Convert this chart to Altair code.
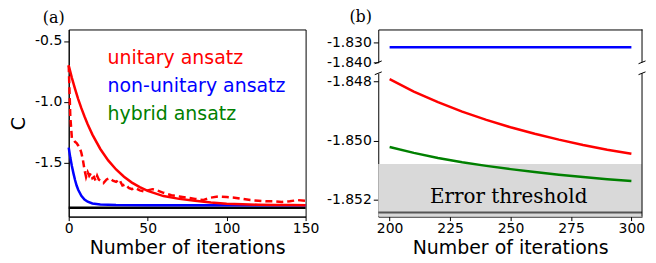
import altair as alt
import pandas as pd

# ---------------- Panel (a) data ----------------
iter_solid = [0, 2, 4, 6, 8, 10, 12, 15, 20, 25, 30, 35, 40, 45, 50, 60, 70, 80, 90, 100, 110, 120, 130, 140, 150]
unitary_solid = [-0.703, -0.803, -0.894, -0.978, -1.053, -1.122, -1.186, -1.271, -1.389, -1.483, -1.558,
                 -1.618, -1.666, -1.703, -1.734, -1.777, -1.800, -1.815, -1.830, -1.840, -1.845, -1.848,
                 -1.850, -1.851, -1.852]

iter_dashed = [0, 1, 2, 3, 4, 5, 6, 7, 8, 9, 10, 11, 12, 13, 14, 15, 16, 17, 18, 19, 20, 22, 24, 26, 28,
               30, 32, 34, 36, 38, 40, 42, 45, 48, 50, 53, 56, 60, 65, 70, 75, 80, 85, 90, 95, 100, 105,
               110, 115, 120, 125, 130, 135, 140, 145, 150]
unitary_dashed = [-0.70, -1.12, -1.30, -1.31, -1.33, -1.34, -1.36, -1.38, -1.42, -1.48, -1.56, -1.62, -1.58,
                  -1.61, -1.59, -1.63, -1.62, -1.65, -1.61, -1.64, -1.65, -1.67, -1.64, -1.63, -1.65,
                  -1.66, -1.64, -1.69, -1.68, -1.71, -1.72, -1.71, -1.73, -1.74, -1.73, -1.72, -1.73,
                  -1.75, -1.77, -1.78, -1.79, -1.80, -1.81, -1.79, -1.78, -1.785, -1.79, -1.80, -1.81,
                  -1.815, -1.82, -1.82, -1.825, -1.82, -1.81, -1.815]

iter_blue = [0, 1, 2, 3, 4, 5, 6, 8, 10, 12, 15, 20, 25, 30, 50, 100, 150]
nonunitary = [-1.378, -1.46, -1.53, -1.59, -1.645, -1.69, -1.725, -1.775, -1.805, -1.823, -1.838, -1.846,
              -1.849, -1.851, -1.852, -1.852, -1.852]

exact_a = [-1.874]

legend_labels = ["unitary ansatz", "non-unitary ansatz", "hybrid ansatz"]
legend_colors = ["#ff0000", "#0000ff", "#008000"]

# ---------------- Panel (b) data ----------------
iter_b = [200, 210, 220, 230, 240, 250, 260, 270, 280, 290, 300]
unitary_b = [-1.84792, -1.84834, -1.84870, -1.84902, -1.84930, -1.84955, -1.84977, -1.84997, -1.85015,
             -1.85031, -1.85045]
hybrid_b = [-1.85022, -1.85042, -1.85059, -1.85074, -1.85086, -1.85097, -1.85107, -1.85116, -1.85124,
            -1.85131, -1.85137]
nonunitary_b = [-1.8324, -1.8324, -1.8324, -1.8324, -1.8324, -1.8324, -1.8324, -1.8324, -1.8324,
                -1.8324, -1.8324]
threshold = [-1.85080]
exact_b = [-1.85244]

# axis ranges
xa_dom = [0, 150]
ya_dom = [-1.946, -0.405]
xb_dom = [195.3, 304.4]
yb_top_dom = [-1.840, -1.8235]
yb_bot_dom = [-1.85258, -1.84772]

FONT = "DejaVu Sans"
SERIF = "DejaVu Serif"
MINUS = "\u2212"

def lab(fmt):
    return f"replace(format(datum.value, '{fmt}'), '{MINUS}', '-')"

# ---------------- Panel (a) ----------------
xa = alt.X("it:Q", scale=alt.Scale(domain=xa_dom, nice=False, zero=False),
           axis=alt.Axis(values=[0, 50, 100, 150], title="Number of iterations", format="d",
                         titlePadding=3, tickSize=4, labelPadding=1))
ya = alt.Y("C:Q", scale=alt.Scale(domain=ya_dom, nice=False, zero=False),
           axis=alt.Axis(values=[-0.5, -1.0, -1.5], title="C", labelExpr=lab(".1f"), titlePadding=6))

df_solid = pd.DataFrame({"it": iter_solid, "C": unitary_solid})
df_dashed = pd.DataFrame({"it": iter_dashed, "C": unitary_dashed})
df_blue = pd.DataFrame({"it": iter_blue, "C": nonunitary})
df_exact_a = pd.DataFrame({"C": exact_a})

a_layers = [
    alt.Chart(df_exact_a).mark_rule(color="black", strokeWidth=2.5).encode(y=ya),
    alt.Chart(df_blue).mark_line(color="#0000ff", strokeWidth=2.5).encode(x=xa, y=ya),
    alt.Chart(df_dashed).mark_line(color="#ff0000", strokeWidth=2.5, strokeDash=[7, 4]).encode(x=xa, y=ya),
    alt.Chart(df_solid).mark_line(color="#ff0000", strokeWidth=2.5).encode(x=xa, y=ya),
]
for i, (t, c) in enumerate(zip(legend_labels, legend_colors)):
    a_layers.append(
        alt.Chart(pd.DataFrame({"label": [t]})).mark_text(
            align="left", baseline="middle", fontSize=19, font=FONT, color=c,
            x=39, y=29 + 28 * i).encode(text="label:N")
    )

panel_a = alt.layer(*a_layers).properties(
    width=238, height=188,
    view=alt.ViewBackground(stroke="black", strokeWidth=1),
    title=alt.TitleParams("(a)", anchor="start", frame="group", dx=-26, offset=4,
                          font=SERIF, fontSize=16, fontWeight="normal", color="black"),
)

# ---------------- Panel (b) ----------------
xb_top = alt.X("it:Q", scale=alt.Scale(domain=xb_dom, nice=False, zero=False),
               axis=alt.Axis(orient="top", labels=False, ticks=False, title=None, domain=True))
xb_axis = alt.Axis(values=[200, 225, 250, 275, 300], title="Number of iterations", format="d",
                   titlePadding=3, tickSize=4, labelPadding=1)
xb_bot = alt.X("it:Q", scale=alt.Scale(domain=xb_dom, nice=False, zero=False), axis=xb_axis)
yb_top = alt.Y("C:Q", scale=alt.Scale(domain=yb_top_dom, nice=False, zero=False),
               axis=alt.Axis(values=[-1.830, -1.840], title=None, labelExpr=lab(".3f")))
yb_bot_axis = alt.Axis(values=[-1.848, -1.850, -1.852], title=None, labelExpr=lab(".3f"))
yb_bot = alt.Y("C:Q", scale=alt.Scale(domain=yb_bot_dom, nice=False, zero=False), axis=yb_bot_axis)

slash = "M-1,0.4L1,-0.4"

df_b_blue = pd.DataFrame({"it": iter_b, "C": nonunitary_b})
df_right_edge = pd.DataFrame({"it": [xb_dom[1]]})
df_breaks_top = pd.DataFrame({"it": xb_dom, "C": [yb_top_dom[0]] * 2})
df_breaks_bot = pd.DataFrame({"it": xb_dom, "C": [yb_bot_dom[1]] * 2})

top = alt.layer(
    alt.Chart(df_b_blue).mark_line(color="#0000ff", strokeWidth=2.5).encode(x=xb_top, y=yb_top),
    alt.Chart(df_right_edge).mark_rule(color="black", strokeWidth=1).encode(x=xb_top),
    alt.Chart(df_breaks_top).mark_point(shape=slash, size=49, color="black", strokeWidth=1,
                                        filled=False, opacity=1).encode(x=xb_top, y=yb_top),
).properties(
    width=265, height=33,
    title=alt.TitleParams("(b)", anchor="start", frame="group", dx=-29, offset=4,
                          font=SERIF, fontSize=16, fontWeight="normal", color="black"),
)

df_band = pd.DataFrame({"x1": [xb_dom[0]], "x2": [xb_dom[1]], "y1": threshold, "y2": [yb_bot_dom[0]]})
df_exact_b = pd.DataFrame({"C": exact_b})
df_red_b = pd.DataFrame({"it": iter_b, "C": unitary_b})
df_green_b = pd.DataFrame({"it": iter_b, "C": hybrid_b})

bottom = alt.layer(
    alt.Chart(df_band).mark_rect(color="#d9d9d9").encode(
        x=alt.X("x1:Q", scale=alt.Scale(domain=xb_dom, nice=False, zero=False), axis=xb_axis),
        x2="x2:Q",
        y=alt.Y("y1:Q", scale=alt.Scale(domain=yb_bot_dom, nice=False, zero=False), axis=yb_bot_axis),
        y2="y2:Q"),
    alt.Chart(df_exact_b).mark_rule(color="#555555", strokeWidth=2).encode(y=yb_bot),
    alt.Chart(df_red_b).mark_line(color="#ff0000", strokeWidth=2.5).encode(x=xb_bot, y=yb_bot),
    alt.Chart(df_green_b).mark_line(color="#008000", strokeWidth=2.5).encode(x=xb_bot, y=yb_bot),
    alt.Chart(pd.DataFrame({"label": ["Error threshold"]})).mark_text(
        align="center", baseline="middle", font=SERIF, fontSize=20, color="black",
        x=131, y=124).encode(text="label:N"),
    alt.Chart(df_right_edge).mark_rule(color="black", strokeWidth=1).encode(x=xb_bot),
    alt.Chart(df_breaks_bot).mark_point(shape=slash, size=49, color="black", strokeWidth=1,
                                        filled=False, opacity=1).encode(x=xb_bot, y=yb_bot),
).properties(width=265, height=144)

right = alt.vconcat(top, bottom, spacing=11, bounds="flush")

chart = alt.hconcat(panel_a, right, spacing=73, bounds="flush").properties(
    padding={"left": 1, "top": 0, "right": 0, "bottom": -2},
    background="white",
).configure_view(
    stroke=None
).configure_axis(
    grid=False, domainColor="black", domainWidth=1, tickColor="black", tickSize=5, tickWidth=1,
    labelFont=FONT, labelFontSize=14, labelColor="black", labelPadding=2, labelFlush=False,
    titleFont=FONT, titleFontSize=19, titleFontWeight="normal", titleColor="black",
)

chart.save("out.html", embed_options={"renderer": "svg", "actions": False})
